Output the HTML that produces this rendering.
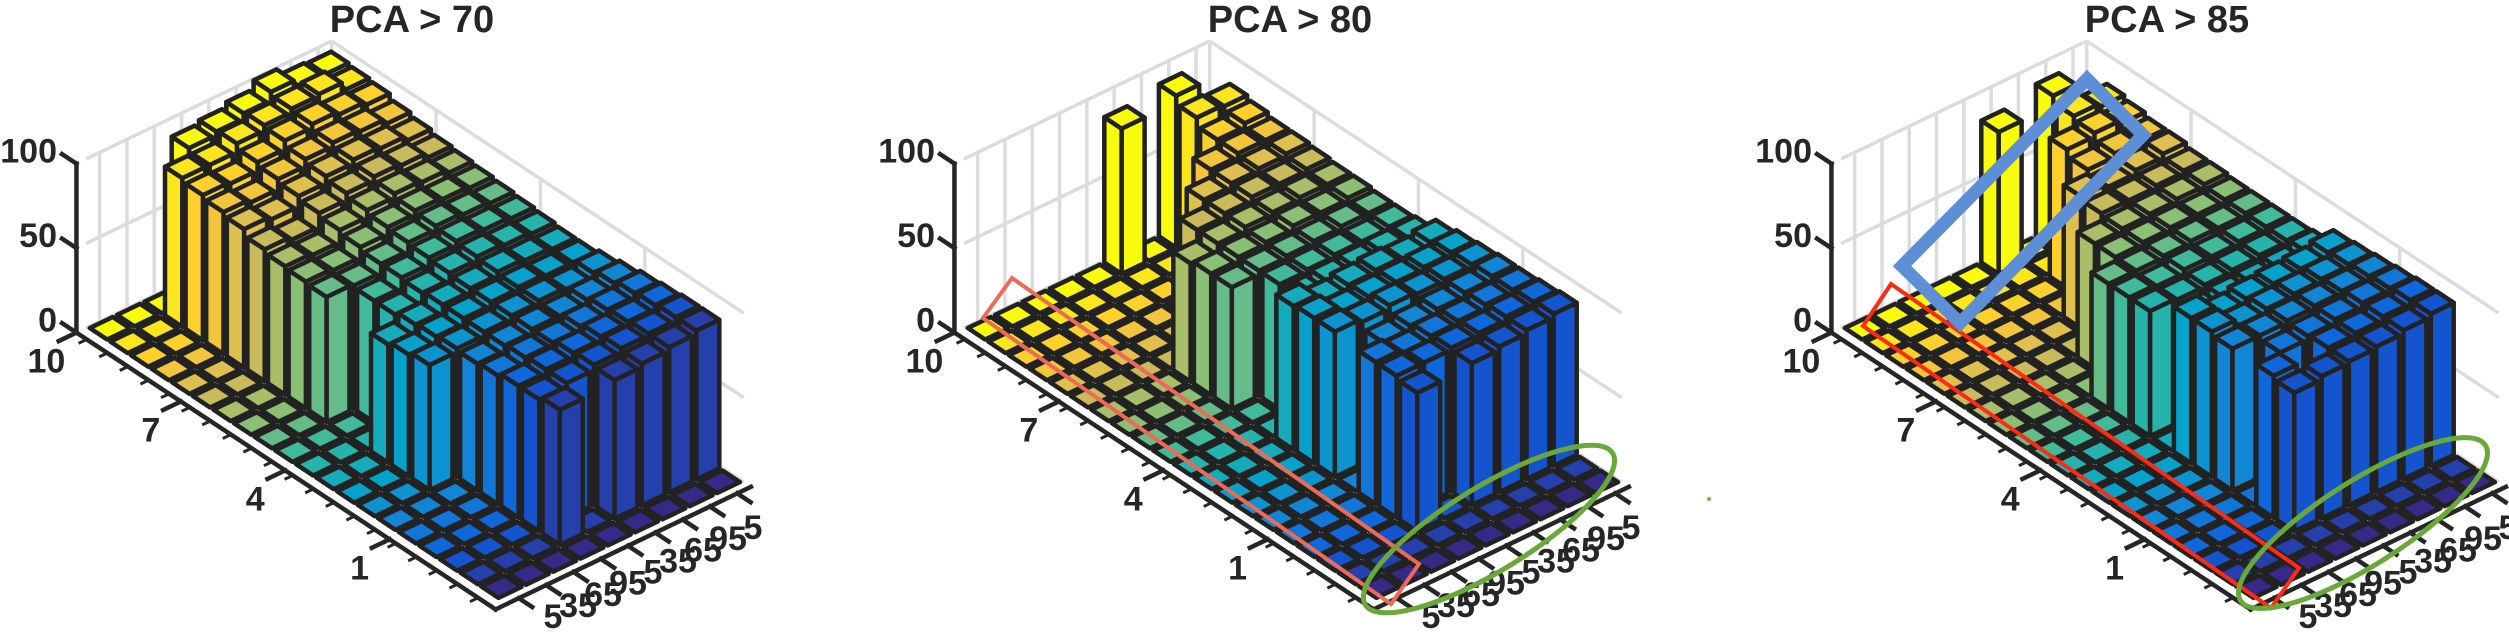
<!DOCTYPE html>
<html><head><meta charset="utf-8"><style>
html,body{margin:0;padding:0;background:#fff;}
svg{display:block;}
text{font-family:"Liberation Sans",Arial,sans-serif;font-weight:bold;fill:#262626;}
</style></head><body>
<svg id="chart" width="2509" height="632" viewBox="0 0 2509 632" xmlns="http://www.w3.org/2000/svg"></svg>
<script>
const titles = ["PCA > 70", "PCA > 80", "PCA > 85"];
const rowTickValues = [10, 7, 4, 1];
const colTickLabels = ["5","35","65","95","5","35","65","95","5"];
const zTickValues = [0, 50, 100];
const H70 = [
[0,0,0,90,92,95,100,96,95],[0,0,88,88,93,96,98,99,94],[0,0,86,85,90,95,97,95,93],[0,0,84,82,88,92,94,93,90],
[0,0,82,80,86,90,92,91,88],[0,0,78,76,84,88,90,89,86],[0,0,76,75,82,86,88,87,85],[0,0,75,74,80,84,86,85,84],
[0,0,74,73,78,83,85,84,83],[0,0,0,72,78,82,84,83,82],[0,0,0,72,77,81,83,82,81],[0,0,70,74,78,80,82,81,80],
[0,0,72,75,78,80,81,80,80],[0,0,74,76,78,80,81,80,82],[0,0,0,75,78,80,80,82,84],[0,0,0,76,79,80,82,84,86],
[0,0,0,78,80,82,84,85,87],[0,0,0,78,80,83,85,86,88],[0,0,0,80,0,82,84,86,88],[0,0,0,0,0,0,0,0,0]];
const H80 = [
[0,0,0,0,0,86,0,90,0],[0,0,0,0,0,0,0,85,84],[0,0,0,0,0,0,0,80,82],[0,0,0,0,0,0,78,80,80],
[0,0,0,0,0,76,78,79,80],[0,0,0,0,74,76,78,78,79],[0,0,0,70,74,76,77,78,78],[0,0,0,72,74,75,77,77,78],
[0,0,0,72,74,75,76,77,77],[0,0,0,0,74,75,76,76,77],[0,0,0,0,74,76,77,78,78],[0,0,0,85,80,82,83,82,84],
[0,0,0,86,82,83,84,85,86],[0,0,0,86,84,86,85,86,87],[0,0,0,0,80,82,84,86,88],[0,0,0,84,82,84,85,87,88],
[0,0,0,84,84,85,86,88,89],[0,0,0,82,0,84,86,88,90],[0,0,0,0,0,0,0,0,0],[0,0,0,0,0,0,0,0,0]];
const H85 = [
[0,0,0,0,0,84,0,90,0],[0,0,0,0,0,0,0,86,84],[0,0,0,0,0,0,82,84,82],[0,0,0,0,0,0,78,80,80],
[0,0,0,0,0,78,76,78,80],[0,0,0,0,0,76,76,77,78],[0,0,0,0,74,75,76,77,78],[0,0,0,0,74,75,76,76,77],
[0,0,0,74,74,75,76,76,77],[0,0,0,74,73,75,75,76,77],[0,0,0,74,73,74,75,76,77],[0,0,0,0,72,74,75,76,78],
[0,0,0,86,80,82,83,84,86],[0,0,0,86,82,84,85,86,87],[0,0,0,84,84,85,86,87,88],[0,0,0,0,82,84,86,88,89],
[0,0,0,84,0,85,86,88,90],[0,0,0,82,84,85,86,88,90],[0,0,0,0,0,0,0,0,0],[0,0,0,0,0,0,0,0,0]];
const panelData = [H70, H80, H85];

const NS = "http://www.w3.org/2000/svg";
const svg = document.getElementById("chart");
const offsets = [0, 878, 1755];
const NR = 20, NC = 9;
function proj(a, b, z) { return [86 + 20.6*a + 27.3*b, 328 + 13.6*a - 13.1*b - 1.69*z]; }
function rowPos(v) { return (10 - v) * 15.2 / 9; }
const stops = [[0.0,[53,42,135]],[0.125,[15,92,221]],[0.25,[20,129,214]],[0.375,[6,164,202]],[0.5,[46,183,164]],[0.625,[135,191,119]],[0.75,[209,187,89]],[0.875,[254,200,50]],[1.0,[249,251,14]]];
function parula(t){
  for(let i=1;i<stops.length;i++){ if(t<=stops[i][0]){ const [t0,c0]=stops[i-1],[t1,c1]=stops[i]; const f=(t-t0)/(t1-t0);
    return "rgb("+c0.map((v,k)=>Math.round(v+(c1[k]-v)*f)).join(",")+")"; } }
  return "rgb(249,251,14)";
}
function mk(tag, attrs, parent){ const e=document.createElementNS(NS,tag); for(const k in attrs) e.setAttribute(k,attrs[k]); parent.appendChild(e); return e; }
function pts(arr){ return arr.map(p=>p[0].toFixed(1)+","+p[1].toFixed(1)).join(" "); }

panelData.forEach((H, pi) => {
  const g = mk("g", {transform:"translate("+offsets[pi]+",0)"}, svg);
  
  
  const t = mk("text", {x:412, y:32, "text-anchor":"middle", "font-size":38}, g);
  t.textContent = titles[pi];
  
  
  const grid = mk("g", {stroke:"#dcdcdc","stroke-width":3.5,fill:"none"}, g);
  
  
  const line = (p,q,parent,extra)=>mk("line",Object.assign({x1:p[0],y1:p[1],x2:q[0],y2:q[1]},extra||{}),parent);
  for(let k=0;k<NC;k++){ line(proj(0,k+0.5,0),proj(0,k+0.5,100),grid); }
  line(proj(0,NC,0),proj(0,NC,100),grid);
  [0,50,100].forEach(z=>{ line(proj(0,0,z),proj(0,NC,z),grid); line(proj(0,NC,z),proj(NR,NC,z),grid); });
  rowTickValues.forEach(v=>{ const a=rowPos(v); line(proj(a,NC,0),proj(a,NC,100),grid); });
  const bars = mk("g", {stroke:"#222222","stroke-width":4.5,"stroke-linejoin":"round"}, g);
  
  
  for(let r=0;r<NR;r++){
    const col = parula(1 - r/(NR-1));
    for(let c=NC-1;c>=0;c--){
      const h = H[r][c];
      const a0=r+0.08,a1=r+0.92,b0=c+0.08,b1=c+0.92;
      const cell = mk("g", {fill:col}, bars);
      
      
      if(h>0){
        mk("polygon",{points:pts([proj(a1,b0,0),proj(a1,b1,0),proj(a1,b1,h),proj(a1,b0,h)])},cell);
        mk("polygon",{points:pts([proj(a0,b0,0),proj(a1,b0,0),proj(a1,b0,h),proj(a0,b0,h)])},cell);
      }
      mk("polygon",{points:pts([proj(a0,b0,h),proj(a1,b0,h),proj(a1,b1,h),proj(a0,b1,h)])},cell);
    }
  }
  const ax = mk("g", {stroke:"#262626","stroke-width":4.5,"stroke-linecap":"square"}, g);
  
  
  line(proj(0,-0.35,0),proj(0,-0.35,100),ax);
  line(proj(0,-0.35,0),proj(NR+0.35,-0.35,0),ax);
  line(proj(NR+0.35,-0.35,0),proj(NR+0.35,NC,0),ax);
  zTickValues.forEach(z=>{
    const p=proj(0,-0.35,z), q=proj(-0.7,-0.35,z); line(p,q,ax);
    const tx=mk("text",{x:57,y:(p[1]-1).toFixed(1),"text-anchor":"end","font-size":34,stroke:"none"},g);
    tx.textContent=String(z);
    
    
  });
  for(let r=0;r<NR;r++){ line(proj(r+0.5,-0.35,0),proj(r+0.5,-0.6,0),ax,{"stroke-width":3}); }
  rowTickValues.forEach(v=>{
    const a=rowPos(v); const p=proj(a,-0.35,0); line(p,proj(a,-1.0,0),ax);
    const tx=mk("text",{x:(p[0]-30).toFixed(1),y:(p[1]+40).toFixed(1),"text-anchor":"middle","font-size":34,stroke:"none"},g);
    tx.textContent=String(v);
    
    
  });
  colTickLabels.forEach((lab,k)=>{
    const p=proj(NR+0.35,k+0.5,0); line(p,proj(NR+1.0,k+0.5,0),ax);
    const f=k/(NC-1);
    const tx=mk("text",{x:(553+200*f).toFixed(1),y:(628-89*f).toFixed(1),"text-anchor":"middle","font-size":34,stroke:"none"},g);
    tx.textContent=lab;
    
    
  });
});

const ann = mk("g", {fill:"none"}, svg);


const r2 = mk("polygon",{points:"1012,278 983,318 1391,604 1419,564",stroke:"#ee6a58","stroke-width":4},ann);


const e2 = mk("ellipse",{cx:1489,cy:529,rx:145,ry:42,transform:"rotate(-31.5 1489 529)",stroke:"#6aa839","stroke-width":5},ann);


const r3 = mk("polygon",{points:"1891,284 1863,326 2271,608 2299,568",stroke:"#ff2a14","stroke-width":4},ann);


const e3 = mk("ellipse",{cx:2363,cy:523,rx:145,ry:42,transform:"rotate(-32.4 2363 523)",stroke:"#6aa839","stroke-width":5},ann);


const b3 = mk("polygon",{points:"2087,79 2143,135 1960,323 1902,266",stroke:"#5e8fd6","stroke-width":13,"stroke-linejoin":"miter"},ann);


const dot = mk("circle",{cx:1709,cy:499,r:2,fill:"#7ab050",stroke:"none"},ann);


</script>
</body></html>
